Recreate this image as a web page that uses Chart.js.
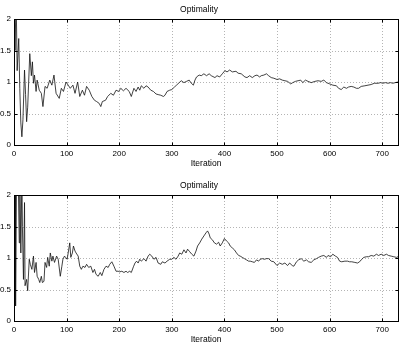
<!DOCTYPE html>
<html><head><meta charset="utf-8">
<script src="https://cdn.jsdelivr.net/npm/chart.js@4"></script>
<style>
html,body{margin:0;padding:0;background:#fff;width:401px;height:346px;overflow:hidden;position:relative}
canvas{position:absolute;left:0}
#c1{top:0}#c2{top:176px}
</style></head>
<body>
<canvas id="c1" width="401" height="173"></canvas>
<canvas id="c2" width="401" height="173"></canvas>
<script>
const chartTitle = 'Optimality';
const xLabel = 'Iteration';
const xTicks = [0,100,200,300,400,500,600,700];
const yTicks = [0,0.5,1,1.5,2];

const topIter = [0,2,4,6,9,11,13,15,17,20,
22,24,26,30,33,35,37,39,42,44,
48,52,55,59,63,68,72,76,80,86,
90,94,99,103,107,112,116,121,125,130,
134,138,143,148,153,157,162,165,168,174,
178,184,189,194,199,203,208,213,219,223,
228,232,236,239,242,247,251,255,260,265,
270,274,279,284,287,291,296,300,305,309,
314,318,323,328,333,337,341,344,347,352,
356,361,366,371,375,382,386,391,396,401,
405,410,415,422,426,432,439,443,448,453,
458,462,467,470,475,480,484,489,494,500,
505,510,515,520,526,530,535,540,545,549,
554,559,565,572,578,584,589,594,600,606,
613,617,622,627,632,636,641,646,651,655,
660,667,673,679,685,692,697,701,706,711,
716,720,725,730];
const topVal = [2.5,1.5,2.4,1.18,1.69,0.9,0.35,0.13,0.4,1.19,
0.8,0.37,0.6,1.45,1.1,1.32,0.98,1.11,0.85,1.03,
0.87,0.82,0.61,0.93,0.90,1.03,0.95,1.11,0.82,0.74,
0.90,0.85,1.0,0.95,0.90,0.95,0.82,1.0,0.77,0.87,
0.79,0.93,0.87,0.77,0.71,0.69,0.66,0.61,0.69,0.71,
0.77,0.82,0.79,0.87,0.85,0.90,0.86,0.90,0.85,0.77,
0.90,0.85,0.92,0.87,0.94,0.90,0.94,0.92,0.87,0.85,
0.81,0.80,0.79,0.77,0.79,0.85,0.87,0.88,0.92,0.95,
0.99,1.02,0.99,1.01,1.03,0.98,0.95,1.03,1.08,1.11,
1.10,1.13,1.10,1.13,1.10,1.07,1.10,1.08,1.13,1.18,
1.16,1.19,1.16,1.17,1.14,1.13,1.08,1.07,1.10,1.07,
1.10,1.11,1.08,1.10,1.11,1.13,1.10,1.07,1.06,1.04,
1.05,1.03,1.02,1.01,0.97,0.99,1.01,1.02,1.03,0.99,
1.03,1.01,0.99,1.01,1.02,1.01,1.03,0.99,0.97,0.95,
0.94,0.90,0.88,0.92,0.90,0.92,0.93,0.92,0.90,0.90,
0.93,0.94,0.95,0.96,0.98,0.98,0.99,0.98,0.99,0.98,
0.99,0.98,0.99,1.00];

const botIter = [0,2,3,5,8,10,11,13,15,16,
18,20,21,24,26,29,31,34,37,39,
42,44,47,49,52,54,57,59,62,64,
67,69,72,74,77,81,84,88,91,93,
96,98,101,103,106,108,111,113,116,118,
122,125,128,131,135,138,142,146,150,153,
156,160,164,167,171,175,179,182,186,190,
194,198,201,205,209,213,216,220,223,227,
230,233,236,239,242,247,251,255,258,262,
266,270,274,279,282,287,291,296,300,304,
308,312,315,319,323,327,330,334,338,342,
346,349,353,357,361,365,368,371,373,377,
381,385,389,392,396,400,404,408,411,415,
419,423,427,430,434,438,442,446,449,453,
457,461,465,468,472,476,480,484,489,494,
500,505,510,515,520,524,529,532,537,541,
546,551,556,560,565,570,575,579,584,589,
594,597,602,606,611,615,619,623,629,634,
638,642,648,653,657,660,665,670,674,679,
684,689,693,698,703,708,712,717,722,727,
730];
const botVal = [2.5,2.5,0.24,2.5,2.3,1.24,2.3,1.08,2.3,1.5,
0.66,1.88,0.56,0.66,0.48,0.98,0.90,0.82,1.03,0.77,
0.93,0.71,0.66,0.61,0.71,0.61,0.63,0.93,0.85,1.01,
0.87,1.08,0.95,1.03,0.93,1.03,0.98,0.71,0.87,0.98,
1.03,1.01,0.98,1.08,1.24,1.01,1.08,1.19,1.11,1.08,
1.03,0.87,0.82,0.87,0.85,0.90,0.85,0.87,0.77,0.82,
0.74,0.71,0.77,0.72,0.82,0.87,0.85,0.90,0.94,0.87,
0.79,0.79,0.78,0.79,0.77,0.79,0.77,0.79,0.77,0.86,
0.92,0.95,0.92,0.98,0.95,0.99,0.95,1.03,1.06,1.03,
0.98,1.01,0.92,0.90,0.94,0.92,0.95,0.98,0.98,1.01,
0.98,1.03,1.08,1.06,1.13,1.08,1.14,1.10,1.06,1.03,
1.11,1.19,1.24,1.30,1.35,1.40,1.43,1.38,1.32,1.29,
1.24,1.22,1.25,1.19,1.24,1.31,1.27,1.24,1.19,1.16,
1.13,1.08,1.04,1.03,1.01,0.99,0.97,0.95,0.95,0.94,
0.93,0.97,0.95,0.98,0.99,0.98,0.99,0.99,0.95,0.94,
0.88,0.92,0.90,0.92,0.88,0.92,0.88,0.87,0.94,0.97,
0.99,0.95,0.97,0.94,0.93,0.97,0.99,1.01,1.03,1.04,
1.01,1.04,1.02,1.06,1.03,1.01,0.95,0.94,0.95,0.95,
0.94,0.94,0.93,0.92,0.94,0.97,1.01,1.02,1.02,1.04,
1.03,1.06,1.04,1.06,1.04,1.06,1.04,1.03,1.02,1.01,
1.02];

const FONT = "'Liberation Sans', Arial, Helvetica, sans-serif";

const frame = {
  id: 'frame',
  beforeDatasetsDraw(chart) {
    const {ctx, chartArea: a, scales: {x, y}} = chart;
    ctx.save();
    ctx.strokeStyle = '#b4b4b4';
    ctx.lineWidth = 1;
    ctx.setLineDash([1, 2]);
    xTicks.forEach(v => {
      if (v <= x.min || v >= x.max) return;
      const p = Math.round(x.getPixelForValue(v)) + 0.5;
      ctx.beginPath(); ctx.moveTo(p, a.top); ctx.lineTo(p, a.bottom); ctx.stroke();
    });
    yTicks.forEach(v => {
      if (v <= y.min || v >= y.max) return;
      const p = Math.round(y.getPixelForValue(v)) + 0.5;
      ctx.beginPath(); ctx.moveTo(a.left, p); ctx.lineTo(a.right, p); ctx.stroke();
    });
    ctx.restore();
  },
  afterDatasetsDraw(chart) {
    const {ctx, chartArea: a, scales: {x, y}} = chart;
    const L = Math.round(a.left) + 0.5, R = Math.round(a.right) + 0.5;
    const T = Math.round(a.top) + 0.5, B = Math.round(a.bottom) + 0.5;
    ctx.save();
    ctx.strokeStyle = '#000';
    ctx.lineWidth = 1;
    ctx.setLineDash([]);
    ctx.strokeRect(L, T, R - L, B - T);
    const tl = 3;
    ctx.beginPath();
    xTicks.forEach(v => {
      const p = Math.round(x.getPixelForValue(v)) + 0.5;
      ctx.moveTo(p, B); ctx.lineTo(p, B - tl);
      ctx.moveTo(p, T); ctx.lineTo(p, T + tl);
    });
    yTicks.forEach(v => {
      const p = Math.round(y.getPixelForValue(v)) + 0.5;
      ctx.moveTo(L, p); ctx.lineTo(L + tl, p);
      ctx.moveTo(R, p); ctx.lineTo(R - tl, p);
    });
    ctx.stroke();
    ctx.restore();
  }
};

function make(id, iters, vals) {
  return new Chart(document.getElementById(id), {
    type: 'line',
    data: {
      datasets: [{
        data: iters.map((it, i) => ({x: it, y: vals[i]})),
        borderColor: '#111',
        borderWidth: 0.8,
        pointRadius: 0,
        tension: 0,
        fill: false,
        clip: 0
      }]
    },
    options: {
      responsive: false,
      animation: false,
      devicePixelRatio: 1,
      layout: {padding: {left: 0, right: 3, top: 0, bottom: 0}},
      plugins: {
        legend: {display: false},
        tooltip: {enabled: false},
        title: {
          display: true,
          text: chartTitle,
          color: '#000',
          font: {family: FONT, size: 8.5, weight: 'normal', lineHeight: 1},
          padding: {top: 5.5, bottom: 5}
        }
      },
      scales: {
        x: {
          type: 'linear',
          min: 0, max: 730,
          afterBuildTicks: s => { s.ticks = xTicks.map(v => ({value: v})); },
          afterFit: s => { s.height = 28; },
          grid: {display: false, drawTicks: false},
          border: {display: false},
          ticks: {color: '#000', font: {family: FONT, size: 8}, padding: 4, maxRotation: 0, autoSkip: false,
                  callback: v => String(v)},
          title: {display: true, text: xLabel, color: '#000',
                  font: {family: FONT, size: 8.5, lineHeight: 1}, padding: {top: 0, bottom: 5}}
        },
        y: {
          type: 'linear',
          min: 0, max: 2,
          afterBuildTicks: s => { s.ticks = yTicks.map(v => ({value: v})); },
          afterFit: s => { s.width = 14; },
          grid: {display: false, drawTicks: false},
          border: {display: false},
          ticks: {color: '#000', font: {family: FONT, size: 8}, padding: 3,
                  callback: v => String(v)}
        }
      }
    },
    plugins: [frame]
  });
}

make('c1', topIter, topVal);
make('c2', botIter, botVal);
</script>
</body></html>
